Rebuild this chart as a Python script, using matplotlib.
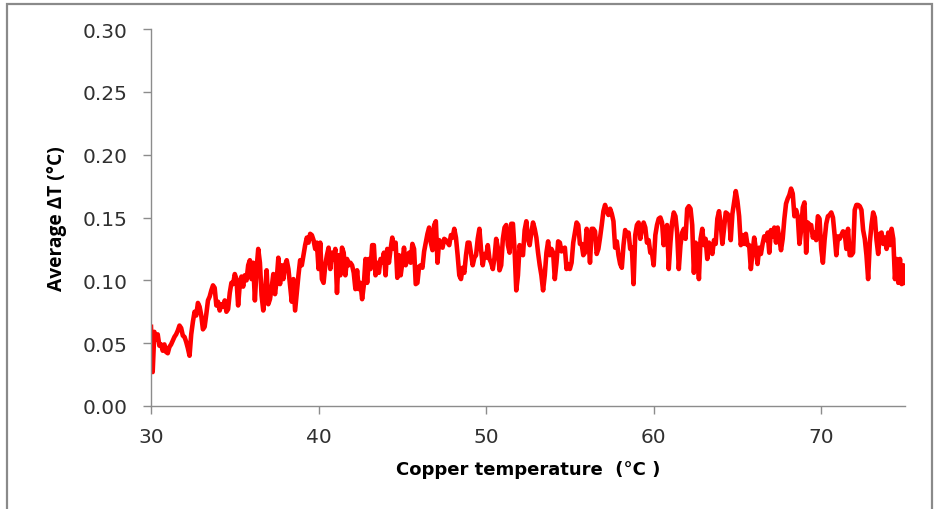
import numpy as np
import matplotlib
matplotlib.use('Agg')
import matplotlib.pyplot as plt
from matplotlib.patches import Rectangle

plt.rcParams['font.family'] = ['DejaVu Sans']

# averaged temperature difference (degC), one reading every 0.1 degC of copper temperature
delta_t = [
    0.063, 0.027, 0.059, 0.053, 0.057, 0.048, 0.049, 0.044, 0.049, 0.043,
    0.042, 0.047, 0.049, 0.052, 0.055, 0.057, 0.060, 0.064, 0.062, 0.056,
    0.055, 0.051, 0.046, 0.040, 0.057, 0.067, 0.075, 0.072, 0.082, 0.079,
    0.072, 0.061, 0.063, 0.073, 0.084, 0.087, 0.092, 0.096, 0.094, 0.080,
    0.083, 0.076, 0.081, 0.079, 0.084, 0.075, 0.077, 0.090, 0.098, 0.097,
    0.105, 0.101, 0.080, 0.097, 0.103, 0.095, 0.104, 0.100, 0.112, 0.116,
    0.101, 0.114, 0.084, 0.109, 0.125, 0.114, 0.088, 0.076, 0.089, 0.108,
    0.081, 0.085, 0.094, 0.105, 0.089, 0.100, 0.118, 0.097,
    0.112, 0.101, 0.112, 0.116, 0.109, 0.096, 0.083, 0.101, 0.076, 0.090,
    0.104, 0.116, 0.112, 0.120, 0.128, 0.134, 0.130, 0.137, 0.136, 0.132,
    0.125, 0.130, 0.109, 0.130, 0.101, 0.098, 0.112, 0.120, 0.126, 0.109,
    0.122, 0.117, 0.125, 0.090, 0.120, 0.104, 0.126, 0.122, 0.104, 0.117,
    0.112, 0.114, 0.112, 0.106, 0.093, 0.108, 0.093, 0.098, 0.085, 0.096,
    0.117, 0.098, 0.117, 0.109, 0.128, 0.128, 0.104, 0.114, 0.106, 0.117,
    0.114, 0.122, 0.104, 0.125, 0.114, 0.125, 0.134, 0.125, 0.130, 0.102,
    0.120, 0.104, 0.114, 0.126,
    0.112, 0.117, 0.122, 0.114, 0.129, 0.125, 0.097, 0.098, 0.111, 0.112,
    0.110, 0.123, 0.130, 0.137, 0.142, 0.130, 0.124, 0.144, 0.147, 0.114,
    0.132, 0.130, 0.126, 0.133, 0.132, 0.130, 0.128, 0.136, 0.134, 0.141,
    0.134, 0.120, 0.104, 0.101, 0.110, 0.106, 0.120, 0.130, 0.130, 0.121,
    0.112, 0.118, 0.120, 0.133, 0.141, 0.124, 0.112, 0.121, 0.118, 0.128,
    0.117, 0.114, 0.109, 0.118, 0.133, 0.126, 0.108, 0.112, 0.133, 0.142,
    0.144, 0.128, 0.122, 0.145, 0.145, 0.124, 0.092, 0.104, 0.128, 0.122,
    0.120, 0.140, 0.147, 0.133, 0.128,
    0.138, 0.146, 0.141, 0.134, 0.122, 0.112, 0.104, 0.092, 0.104, 0.122,
    0.131, 0.120, 0.125, 0.122, 0.101, 0.114, 0.131, 0.130, 0.123, 0.125,
    0.126, 0.109, 0.113, 0.109, 0.114, 0.130, 0.138, 0.146, 0.144, 0.129,
    0.129, 0.120, 0.122, 0.141, 0.135, 0.114, 0.141, 0.141, 0.139, 0.121,
    0.125, 0.134, 0.144, 0.155, 0.160, 0.155, 0.152, 0.157, 0.153, 0.147,
    0.126, 0.131, 0.120, 0.113, 0.110, 0.128, 0.140, 0.136, 0.138, 0.125,
    0.126, 0.097, 0.136, 0.144, 0.146, 0.133, 0.141, 0.146, 0.142, 0.130,
    0.132, 0.122, 0.122, 0.112,
    0.136, 0.144, 0.149, 0.150, 0.146, 0.128, 0.141, 0.144, 0.109, 0.130,
    0.146, 0.154, 0.151, 0.138, 0.109, 0.128, 0.138, 0.141, 0.133, 0.157,
    0.159, 0.157, 0.144, 0.106, 0.130, 0.128, 0.101, 0.133, 0.141, 0.128,
    0.133, 0.117, 0.130, 0.126, 0.121, 0.132, 0.129, 0.149, 0.155, 0.145,
    0.129, 0.141, 0.154, 0.153, 0.151, 0.132, 0.153, 0.162, 0.171, 0.163,
    0.151, 0.128, 0.136, 0.129, 0.137, 0.128, 0.128, 0.109, 0.122, 0.134,
    0.125, 0.113, 0.126, 0.121, 0.129, 0.135, 0.132, 0.138, 0.122, 0.140,
    0.135, 0.142, 0.130, 0.142,
    0.133, 0.124, 0.133, 0.149, 0.161, 0.165, 0.168, 0.173, 0.169, 0.151,
    0.156, 0.151, 0.129, 0.140, 0.158, 0.162, 0.122, 0.146, 0.144, 0.144,
    0.134, 0.138, 0.132, 0.151, 0.149, 0.125, 0.114, 0.132, 0.145, 0.151,
    0.152, 0.154, 0.150, 0.136, 0.120, 0.135, 0.133, 0.136, 0.139, 0.138,
    0.125, 0.141, 0.120, 0.120, 0.122, 0.156, 0.160, 0.160, 0.159, 0.156,
    0.140, 0.133, 0.120, 0.101, 0.130, 0.144, 0.154, 0.150, 0.132, 0.121,
    0.137, 0.138, 0.129, 0.134, 0.125, 0.138, 0.128, 0.141, 0.133, 0.101,
    0.117, 0.098, 0.117, 0.097, 0.112, 0.098,
]

# copper temperature, 30.0 .. 75.0 degC
temp_c = np.round(np.arange(30.0, 75.05, 0.1), 1)[:len(delta_t)]

y_ticks = [0.00, 0.05, 0.10, 0.15, 0.20, 0.25, 0.30]
x_ticks = [30, 40, 50, 60, 70]

fig = plt.figure(figsize=(9.37, 5.10), dpi=100)
ax = fig.add_axes([151 / 937, 1 - 407 / 510, (905 - 151) / 937, (407 - 30) / 510])

ax.plot(temp_c, delta_t, color='#ff0000', lw=3.3, solid_joinstyle='round')

ax.set_xlim(30, 75)
ax.set_ylim(0, 0.30)
ax.set_xticks(x_ticks)
ax.set_yticks(y_ticks)
ax.set_yticklabels([f'{v:.2f}' for v in y_ticks])

for side in ['top', 'right']:
    ax.spines[side].set_visible(False)
for side in ['left', 'bottom']:
    ax.spines[side].set_color('#8c8c8c')
    ax.spines[side].set_linewidth(1.0)

ax.tick_params(axis='both', direction='out', length=6, width=1.0,
               color='#8c8c8c', labelsize=14.5, labelcolor='#303030')
ax.tick_params(axis='y', pad=11)
ax.tick_params(axis='x', pad=9)

ax.set_xlabel('Copper temperature  (°C )', fontsize=13, fontweight='bold',
              color='#000000', labelpad=10)
ax.set_ylabel('Average ΔT (°C)', fontsize=13.8, fontweight='bold',
              family=['Open Sans', 'DejaVu Sans'], color='#000000', labelpad=11)

# grey frame around the whole chart area
fig.patches.append(Rectangle((7 / 937, -0.02), (932 - 7) / 937, 1.02 - 5 / 510,
                             transform=fig.transFigure, fill=False,
                             edgecolor='#8a8a8a', lw=1.6))

fig.savefig('out.png', dpi=100)
